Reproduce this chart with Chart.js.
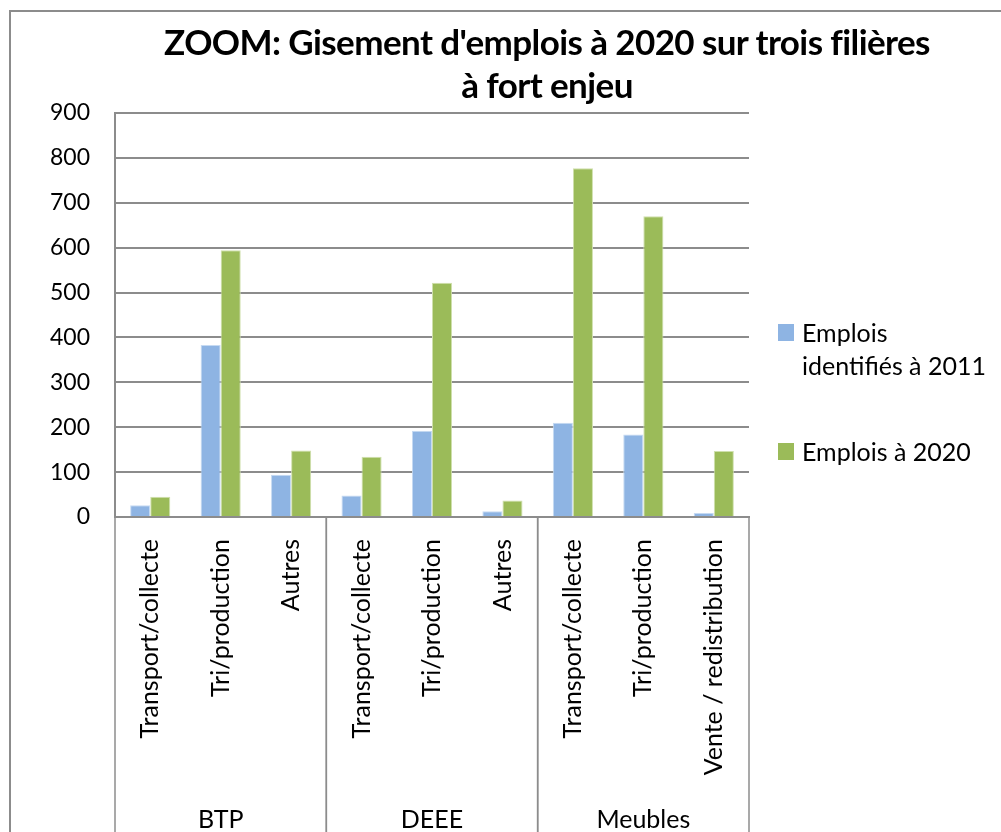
<!DOCTYPE html>
<html>
<head>
<meta charset="utf-8">
<script src="https://cdn.jsdelivr.net/npm/chart.js@4/dist/chart.umd.min.js"></script>
<style>
    html, body { margin: 0; padding: 0; background: #fff; }
    #wrap { position: relative; width: 1001px; height: 832px; overflow: hidden; font-family: Lato, sans-serif; }
    #frame { position: absolute; left: 9px; top: 10px; width: 1100px; height: 900px; border-left: 2px solid #8c8c8c; border-top: 2px solid #8c8c8c; }
    #title { position: absolute; left: 147px; width: 800px; top: 20px; text-align: center; font-weight: bold; font-size: 35px; line-height: 43px; letter-spacing: -0.6px; color: #000; }
    .legend-item { position: absolute; left: 778px; font-size: 25px; line-height: 33px; color: #000; }
    .legend-item .box { position: absolute; left: 0; top: 8px; width: 16px; height: 17px; }
    .legend-item .txt { position: absolute; left: 24px; top: 0; white-space: nowrap; }
    canvas { position: absolute; left: 0; top: 0; }
</style>
</head>
<body>
<div id="wrap">
    <div id="frame"></div>
    <canvas id="chart" width="1001" height="832"></canvas>
    <div id="title">ZOOM: Gisement d'emplois à 2020 sur trois filières<br>à fort enjeu</div>
    <div id="legend"></div>
</div>
<script>
const subCategories = ['Transport/collecte', 'Tri/production', 'Autres', 'Transport/collecte', 'Tri/production', 'Autres', 'Transport/collecte', 'Tri/production', 'Vente / redistribution'];
const groups = ['BTP', 'DEEE', 'Meubles'];
const groupSizes = [3, 3, 3];
const seriesNames = ['Emplois identifiés à 2011', 'Emplois à 2020'];
const emplois2011 = [26, 383, 94, 48, 192, 13, 210, 184, 9];
const emplois2020 = [45, 594, 148, 134, 522, 37, 777, 670, 147];
const yTicks = [0, 100, 200, 300, 400, 500, 600, 700, 800, 900];

const colors = ['#8eb4e3', '#9bbb59'];
const axisGray = '#8c8c8c';

// legend (html so the first entry can wrap like the original)
const legendLines = [['Emplois', 'identifiés à 2011'], ['Emplois à 2020']];
const legendTops = [316, 435];
document.getElementById('legend').innerHTML = legendLines
    .map(
        (lines, i) => `
        <div class="legend-item" style="top:${legendTops[i]}px">
            <div class="box" style="background:${colors[i]}"></div>
            <div class="txt">${lines.join('<br>')}</div>
        </div>
    `
    )
    .join('');

// draws the second level of the category axis: group separators and names
const groupAxisPlugin = {
    id: 'groupAxis',
    afterDraw(chart) {
        const { ctx, chartArea, scales } = chart;
        const x = scales.x;
        const half = (x.getPixelForValue(1) - x.getPixelForValue(0)) / 2;
        ctx.save();
        ctx.strokeStyle = axisGray;
        ctx.lineWidth = 1.5;
        ctx.fillStyle = '#000';
        ctx.font = '25px Lato';
        ctx.textAlign = 'center';
        ctx.textBaseline = 'middle';
        let start = 0;
        groups.forEach((name, g) => {
            const end = start + groupSizes[g] - 1;
            const left = x.getPixelForValue(start) - half;
            const right = x.getPixelForValue(end) + half;
            [left, right].forEach((px) => {
                ctx.beginPath();
                ctx.moveTo(px, chartArea.bottom);
                ctx.lineTo(px, chart.height);
                ctx.stroke();
            });
            ctx.fillText(name, (left + right) / 2, 820);
            start = end + 1;
        });
        ctx.restore();
    },
};

const ctx = document.getElementById('chart').getContext('2d');
new Chart(ctx, {
    type: 'bar',
    data: {
        labels: subCategories,
        datasets: [
            {
                label: seriesNames[0],
                data: emplois2011,
                backgroundColor: colors[0],
                borderColor: '#c6daf2',
                borderWidth: 1,
            },
            {
                label: seriesNames[1],
                data: emplois2020,
                backgroundColor: colors[1],
                borderColor: '#cfe0ad',
                borderWidth: 1,
            },
        ],
    },
    options: {
        responsive: false,
        animation: false,
        layout: { padding: { top: 113, right: 252, left: 0, bottom: 0 } },
        plugins: {
            legend: { display: false },
            title: { display: false },
            tooltip: { enabled: false },
        },
        datasets: {
            bar: { categoryPercentage: 0.57, barPercentage: 1.0 },
        },
        scales: {
            x: {
                afterFit: (scale) => {
                    scale.height = 315;
                },
                grid: { display: false, drawTicks: false },
                border: { display: true, color: axisGray, width: 2 },
                ticks: {
                    autoSkip: false,
                    minRotation: 90,
                    maxRotation: 90,
                    padding: 22,
                    color: '#000',
                    font: { family: 'Lato', size: 25 },
                },
            },
            y: {
                min: 0,
                max: 900,
                afterFit: (scale) => {
                    scale.width = 115;
                },
                afterBuildTicks: (scale) => {
                    scale.ticks = yTicks.map((v) => ({ value: v }));
                },
                grid: { color: axisGray, lineWidth: 2, drawTicks: false },
                border: { display: true, color: axisGray, width: 2 },
                ticks: {
                    padding: 25,
                    color: '#000',
                    font: { family: 'Lato', size: 23 },
                },
            },
        },
    },
    plugins: [groupAxisPlugin],
});
</script>
</body>
</html>
